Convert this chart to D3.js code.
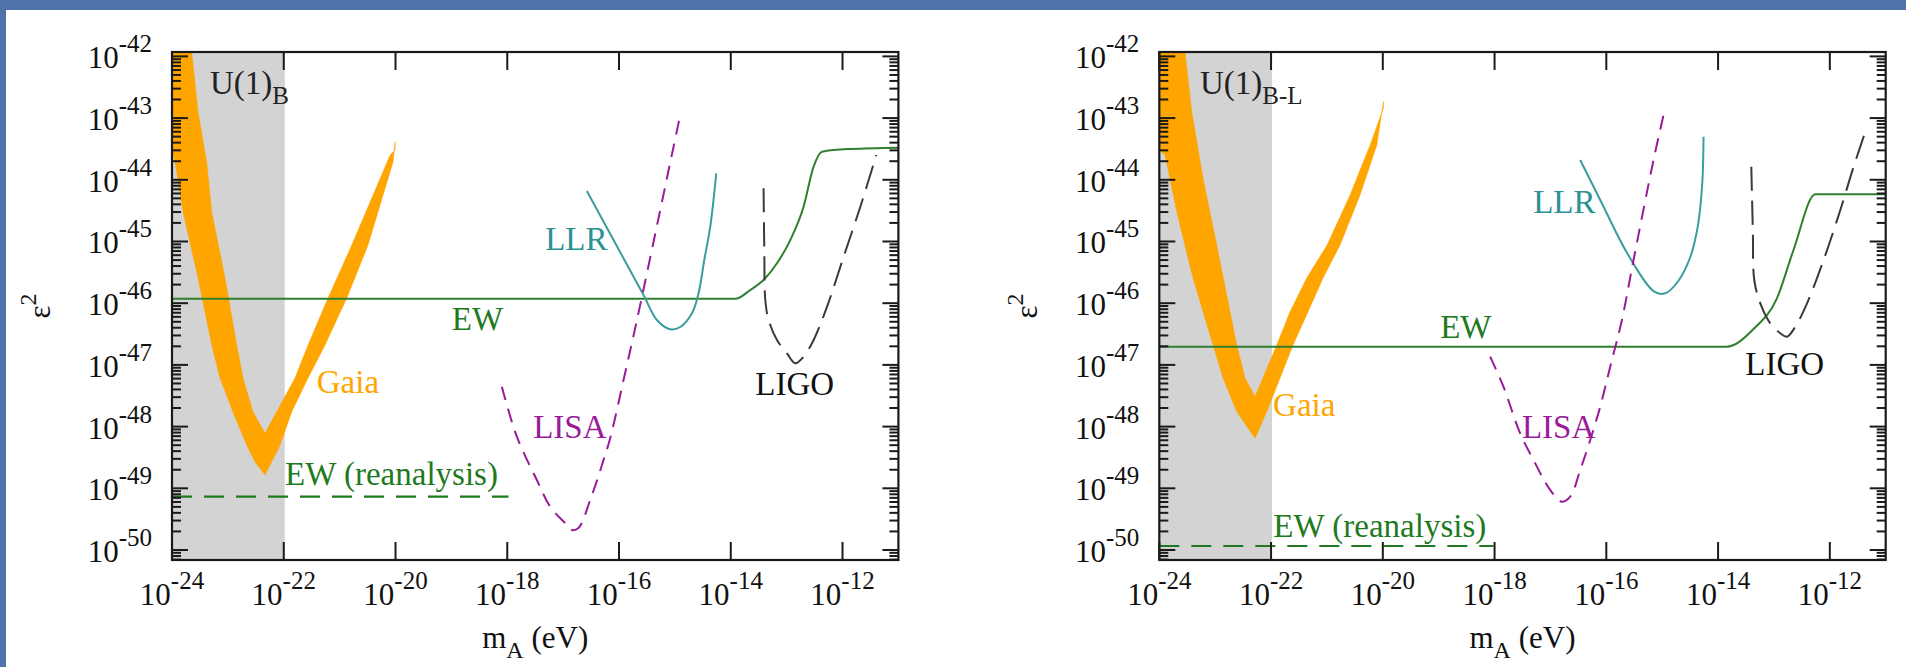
<!DOCTYPE html>
<html><head><meta charset="utf-8">
<script src="https://cdn.jsdelivr.net/npm/d3@7"></script>
<style>
html,body{margin:0;padding:0;background:#4e73a9;overflow:hidden;}
svg{display:block;}
svg text{font-family:"Liberation Serif","DejaVu Serif",serif;}
</style></head><body>
<svg id="chart" width="1906" height="667" font-family="Liberation Serif, DejaVu Serif, serif"></svg>
<script>
// ---- DATA (all values are log10 of m_A [eV] and log10 of epsilon^2) ----
const xTickExps = [-24, -22, -20, -18, -16, -14, -12];
const yTickExps = [-50, -49, -48, -47, -46, -45, -44, -43, -42];
const xDomainExp = [-24, -11];
const yDomainExp = [-50.162, -41.929];
const shadedBand = [-24, -22];

// Left panel: U(1)_B
const gaiaLowerB = [[-24,-43.517],[-23.946,-43.712],[-23.803,-44.522],[-23.534,-45.592],[-23.289,-46.677],[-23.141,-47.212],[-22.908,-47.763],[-22.663,-48.298],[-22.514,-48.574],[-22.335,-48.785],[-22.066,-48.298],[-21.857,-47.758],[-21.565,-47.212],[-21.261,-46.677],[-20.872,-45.916],[-20.491,-45.057],[-20.222,-44.246],[-20.043,-43.707],[-20.007,-43.382]];
const gaiaUpperB = [[-24,-40.4],[-23.647,-41.929],[-23.534,-42.901],[-23.379,-43.712],[-23.289,-44.522],[-23.051,-45.592],[-22.842,-46.677],[-22.729,-47.212],[-22.550,-47.763],[-22.335,-48.108],[-21.798,-47.212],[-21.565,-46.677],[-21.207,-45.916],[-20.782,-45.057],[-20.401,-44.246],[-20.097,-43.598],[-20.007,-43.517]];
const ewB = [[-24,-45.93],[-13.92,-45.93],[-13.651,-45.786],[-13.413,-45.624],[-13.173,-45.353],[-12.935,-44.977],[-12.697,-44.436],[-12.518,-43.788],[-12.367,-43.545],[-11.86,-43.501],[-11,-43.48]];
const ewReB = [[-24,-49.136],[-17.978,-49.136]];
const llrB = [[-16.575,-44.182],[-16.098,-44.976],[-15.561,-45.868],[-15.322,-46.272],[-15.083,-46.423],[-14.904,-46.386],[-14.695,-46.164],[-14.577,-45.84],[-14.474,-45.3],[-14.367,-44.76],[-14.26,-43.895]];
const lisaB = [[-18.097,-47.353],[-17.828,-48.164],[-17.47,-48.865],[-17.232,-49.298],[-16.963,-49.567],[-16.843,-49.676],[-16.725,-49.643],[-16.516,-49.19],[-16.277,-48.541],[-16.157,-48.185],[-15.919,-47.245],[-15.679,-46.272],[-15.262,-44.489],[-15.024,-43.464],[-14.904,-42.95]];
const ligoB = [[-13.413,-44.138],[-13.4,-45.138],[-13.382,-45.948],[-13.323,-46.272],[-13.173,-46.596],[-12.994,-46.812],[-12.846,-46.974],[-12.697,-46.867],[-12.517,-46.596],[-12.277,-46.057],[-11.98,-45.246],[-11.681,-44.436],[-11.395,-43.598]];

// Right panel: U(1)_B-L
const gaiaLowerBL = [[-24,-43.517],[-23.898,-43.598],[-23.688,-44.517],[-23.397,-45.591],[-23.038,-46.677],[-22.859,-47.212],[-22.614,-47.758],[-22.286,-48.19],[-22.077,-47.758],[-21.839,-47.212],[-21.606,-46.677],[-21.338,-46.138],[-21.069,-45.591],[-20.765,-45.057],[-20.407,-44.246],[-20.107,-43.436],[-19.989,-42.734]];
const gaiaUpperBL = [[-24,-39],[-23.54,-41.929],[-23.42,-42.896],[-23.218,-43.971],[-22.972,-45.057],[-22.734,-46.138],[-22.614,-46.677],[-22.466,-47.212],[-22.286,-47.515],[-21.898,-46.677],[-21.66,-46.138],[-21.361,-45.591],[-20.997,-45.057],[-20.585,-44.246],[-20.227,-43.436],[-19.989,-42.836]];
const ewBL = [[-24,-46.705],[-13.853,-46.705],[-13.352,-46.407],[-12.947,-45.921],[-12.65,-45.138],[-12.259,-44.235],[-11,-44.235]];
const ewReBL = [[-24,-49.935],[-18.02,-49.935]];
const llrBL = [[-16.467,-43.679],[-16.109,-44.327],[-15.607,-45.219],[-15.142,-45.814],[-14.945,-45.84],[-14.712,-45.64],[-14.497,-45.251],[-14.364,-44.76],[-14.283,-44.057],[-14.26,-43.301]];
const lisaBL = [[-18.079,-46.867],[-17.841,-47.353],[-17.542,-48.109],[-17.303,-48.541],[-17.005,-49.027],[-16.795,-49.217],[-16.646,-49.136],[-16.467,-48.703],[-16.288,-48.217],[-16.109,-47.677],[-15.93,-47.029],[-15.721,-46.272],[-15.513,-45.3],[-15.155,-43.679],[-14.976,-42.95]];
const ligoBL = [[-13.405,-43.788],[-13.378,-44.814],[-13.352,-45.624],[-13.244,-46.002],[-13.065,-46.326],[-12.886,-46.488],[-12.766,-46.543],[-12.618,-46.381],[-12.408,-46.002],[-12.111,-45.3],[-11.812,-44.489],[-11.574,-43.788],[-11.334,-43.139]];

// Labels: [text, subscript, log m, log eps^2, kind]
const labelsB = [["U(1)","B",-23.32,-42.609,"u1"],["Gaia","",-21.409,-47.455,"gaia"],["EW","",-18.992,-46.434,"ew"],["EW (reanalysis)","",-21.977,-48.946,"ew"],["LLR","",-17.321,-45.138,"llr"],["LISA","",-17.536,-48.185,"lisa"],["LIGO","",-13.561,-47.488,"ligo"]];
const labelsBL = [["U(1)","B-L",-23.271,-42.609,"u1"],["Gaia","",-21.964,-47.828,"gaia"],["EW","",-18.974,-46.564,"ew"],["EW (reanalysis)","",-21.959,-49.789,"ew"],["LLR","",-17.309,-44.538,"llr"],["LISA","",-17.511,-48.185,"lisa"],["LIGO","",-13.513,-47.164,"ligo"]];

// ---- STYLE / LAYOUT ----
const colors = {gaia:"#ffa500", band:"#d3d3d3", ew:"#2f7f2f", ewText:"#1f7a1f", llr:"#3a9d9d", llrText:"#2a9292", lisa:"#9a1a9a", ligo:"#3a3a3a", u1:"#222", axis:"#1a1a1a"};
const panels = [
  {left:172, gaiaLo:gaiaLowerB, gaiaHi:gaiaUpperB, ew:ewB, ewRe:ewReB, llr:llrB, lisa:lisaB, ligo:ligoB, labels:labelsB},
  {left:1159.3, gaiaLo:gaiaLowerBL, gaiaHi:gaiaUpperBL, ew:ewBL, ewRe:ewReBL, llr:llrBL, lisa:lisaBL, ligo:ligoBL, labels:labelsBL}
];
const plotW = 726.4, plotTop = 52, plotBottom = 560;
const FONT = "'Liberation Serif','DejaVu Serif',serif";

const svg = d3.select("#chart");
svg.append("rect").attr("x",6).attr("y",10).attr("width",1900).attr("height",657).attr("fill","#fff");
const defs = svg.append("defs");

panels.forEach((p, i) => {
  const x = d3.scaleLog().domain(xDomainExp.map(e => 10 ** e)).range([p.left, p.left + plotW]);
  const y = d3.scaleLog().domain(yDomainExp.map(e => 10 ** e)).range([plotBottom, plotTop]);
  const g = svg.append("g").style("font-family", FONT);
  const clipId = "clip" + i;
  defs.append("clipPath").attr("id", clipId).append("rect")
    .attr("x", p.left).attr("y", plotTop).attr("width", plotW).attr("height", plotBottom - plotTop);
  const inner = g.append("g").attr("clip-path", `url(#${clipId})`);

  // shaded band
  inner.append("rect").attr("x", x(10 ** shadedBand[0])).attr("y", plotTop)
    .attr("width", x(10 ** shadedBand[1]) - x(10 ** shadedBand[0]) + 1).attr("height", plotBottom - plotTop)
    .attr("fill", colors.band);

  const line = d3.line().x(d => x(10 ** d[0])).y(d => y(10 ** d[1]));
  const mono = d3.line().x(d => x(10 ** d[0])).y(d => y(10 ** d[1])).curve(d3.curveMonotoneX);
  const smooth = d3.line().x(d => x(10 ** d[0])).y(d => y(10 ** d[1])).curve(d3.curveCatmullRom.alpha(0.5));

  // Gaia band
  inner.append("path").attr("d", line(p.gaiaLo.concat(p.gaiaHi.slice().reverse())) + "Z")
    .attr("fill", colors.gaia).attr("stroke", colors.gaia).attr("stroke-width", 0.5);

  // EW
  inner.append("path").attr("d", mono(p.ew)).attr("fill","none").attr("stroke", colors.ew).attr("stroke-width", 2);
  inner.append("path").attr("d", line(p.ewRe)).attr("fill","none").attr("stroke", colors.ewText)
    .attr("stroke-width", 2.2).attr("stroke-dasharray","20,12");
  // LLR
  inner.append("path").attr("d", smooth(p.llr)).attr("fill","none").attr("stroke", colors.llr).attr("stroke-width", 2);
  // LISA
  inner.append("path").attr("d", smooth(p.lisa)).attr("fill","none").attr("stroke", colors.lisa)
    .attr("stroke-width", 2).attr("stroke-dasharray","14,9");
  // LIGO
  inner.append("path").attr("d", smooth(p.ligo)).attr("fill","none").attr("stroke", colors.ligo)
    .attr("stroke-width", 2).attr("stroke-dasharray","24,10");

  // ticks
  const tg = g.append("g").attr("stroke", colors.axis).attr("stroke-width", 2);
  xTickExps.forEach(e => {
    const xv = x(10 ** e);
    tg.append("line").attr("x1", xv).attr("x2", xv).attr("y1", plotBottom).attr("y2", plotBottom - 18);
    tg.append("line").attr("x1", xv).attr("x2", xv).attr("y1", plotTop).attr("y2", plotTop + 18);
  });
  const yDom = y.domain();
  for (let d = -51; d <= -42; d++) {
    for (let k = 1; k <= 9; k++) {
      const v = k * 10 ** d;
      if (v < yDom[0] || v > yDom[1]) continue;
      const yv = y(v), len = k === 1 ? 16 : 9;
      tg.append("line").attr("x1", p.left).attr("x2", p.left + len).attr("y1", yv).attr("y2", yv);
      tg.append("line").attr("x1", p.left + plotW).attr("x2", p.left + plotW - len).attr("y1", yv).attr("y2", yv);
    }
  }
  // frame
  g.append("rect").attr("x", p.left).attr("y", plotTop).attr("width", plotW).attr("height", plotBottom - plotTop)
    .attr("fill","none").attr("stroke", colors.axis).attr("stroke-width", 2.2);

  // tick labels
  xTickExps.forEach(e => {
    const t = g.append("text").attr("x", x(10 ** e)).attr("y", 605).attr("text-anchor","middle")
      .attr("font-size", 31).attr("fill","#111").style("font-family", FONT);
    t.append("tspan").text("10");
    t.append("tspan").attr("dy", -16).attr("font-size", 25).text(String(e));
  });
  yTickExps.forEach(e => {
    const t = g.append("text").attr("x", p.left - 20).attr("y", y(10 ** e) + 12).attr("text-anchor","end")
      .attr("font-size", 31).attr("fill","#111").style("font-family", FONT);
    t.append("tspan").text("10");
    t.append("tspan").attr("dy", -16).attr("font-size", 25).text(String(e));
  });

  // axis titles
  const xt = g.append("text").attr("x", p.left + plotW / 2).attr("y", 648).attr("text-anchor","middle")
    .attr("font-size", 31).attr("fill","#111").style("font-family", FONT);
  xt.append("tspan").text("m");
  xt.append("tspan").attr("dy", 10).attr("font-size", 24).text("A");
  xt.append("tspan").attr("dy", -10).text(" (eV)");
  const yt = g.append("text").attr("transform", `translate(${p.left - 122},306) rotate(-90)`)
    .attr("text-anchor","middle").attr("font-size", 31).attr("fill","#111").style("font-family", FONT);
  yt.append("tspan").text("\u03B5");
  yt.append("tspan").attr("dy", -14).attr("font-size", 24).text("2");

  // curve labels
  const labelColor = {u1:colors.u1, gaia:colors.gaia, ew:colors.ewText, llr:colors.llrText, lisa:colors.lisa, ligo:"#111"};
  p.labels.forEach(l => {
    const t = g.append("text").attr("x", x(10 ** l[2])).attr("y", y(10 ** l[3]))
      .attr("font-size", 33).attr("fill", labelColor[l[4]]).style("font-family", FONT);
    t.append("tspan").text(l[0]);
    if (l[1]) t.append("tspan").attr("dy", 10).attr("font-size", 25).text(l[1]);
  });
});
</script>
</body></html>
